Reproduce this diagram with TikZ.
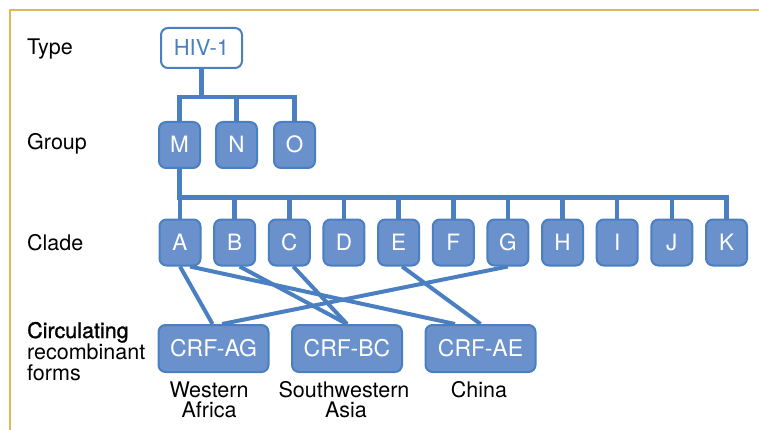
\documentclass[tikz,border=0pt]{standalone}
\usepackage{fontspec}
\setmainfont{TeX Gyre Heros}
\newfontfamily\fbfont[FakeBold=1.2]{TeX Gyre Heros}
\usetikzlibrary{calc,backgrounds}
\definecolor{gold}{RGB}{221,185,90}
\definecolor{boxfill}{RGB}{106,145,203}
\definecolor{boxline}{RGB}{74,128,193}
\definecolor{linkc}{RGB}{74,128,193}
\tikzset{
  lbl/.style={anchor=base west, inner sep=0pt, font=\fontsize{21.5}{21.5}\selectfont, text=black},
  reg/.style={anchor=base, inner sep=0pt, font=\fontsize{21.5}{21.5}\selectfont, text=black},
  boxbase/.style={rounded corners=7pt, line width=2pt, draw=boxline, inner sep=0pt,
    font=\fontsize{22.5}{22.5}\selectfont, text height=16pt, text depth=0pt},
  typebox/.style={boxbase, fill=white, text=linkc, minimum width=81pt, minimum height=40pt},
  letterbox/.style={boxbase, fill=boxfill, text=white, minimum width=41pt, minimum height=46pt},
  crfbox/.style={boxbase, fill=boxfill, text=white, minimum width=110pt, minimum height=47pt,
    font=\fontsize{23}{23}\selectfont},
  tree/.style={draw=linkc, line width=4.5pt},
  cross/.style={draw=linkc, line width=4pt}
}
\begin{document}
\begin{tikzpicture}[x=1pt,y=-1pt]
\useasboundingbox (0,0) rectangle (759,430);
\draw[gold, line width=1.6pt] (10,430) -- (10,10) -- (759,10);

% row labels
\node[lbl] (tType) at (27,55) {Type};
\node[lbl] (tGroup) at (27,150) {Group};
\node[lbl] (tClade) at (27,250) {Clade};
\node[lbl,font=\fontsize{21.5}{21.5}\fbfont] (tCirc) at (27,338) {Circulating};
\node[lbl] (tRec) at (27,359) {recombinant};
\node[lbl] (tForms) at (27,380) {forms};

% type
\node[typebox,font=\fontsize{22}{22}\selectfont] (HIV) at (201.5,48) {HIV-1};

% groups
\node[letterbox] (M) at (179.5,145) {M};
\node[letterbox] (N) at (236.5,145) {N};
\node[letterbox] (O) at (294.5,145) {O};

% clades
\foreach \n [count=\i from 0] in {A,B,C,D,E,F,G,H,I,J,K}{
  \node[letterbox] (\n) at ({180+54.65*\i},242.5) {\n};
}

% CRFs
\node[crfbox] (AG) at (213.5,348.5) {CRF-AG};
\node[crfbox] (BC) at (347,348.5) {CRF-BC};
\node[crfbox] (AE) at (480.5,348.5) {CRF-AE};

% region labels
\node[reg] (wa1) at (209,397) {Western};
\node[reg] (wa2) at (209,417.5) {Africa};
\node[reg] (sa1) at (344,397) {Southwestern};
\node[reg] (sa2) at (346,417.5) {Asia};
\node[reg] (cn) at (479,397) {China};

\begin{pgfonlayer}{background}
  % type to groups
  \draw[tree] (HIV.south) -- ++(0,28) coordinate (j1);
  \draw[tree] (M.north) |- (j1) -| (O.north);
  \draw[tree] (N.north) -- (N.north |- j1);
  % M to clades
  \coordinate (j2) at (180,197.5);
  \draw[tree] (M.south) -- (M.south |- j2) -| (K.north);
  \foreach \n in {A,B,C,D,E,F,G,H,I,J}{
    \draw[tree] (\n.north) -- (\n.north |- j2);
  }
  % recombinant links
  \draw[cross] (A.south) -- ($(AG.north)+(-1,0)$);
  \draw[cross] ($(A.south)+(10,0)$) -- ($(AE.north)+(-25.5,0)$);
  \draw[cross] ($(B.south)+(5,0)$) -- (BC.north);
  \draw[cross] ($(C.south)+(4,0)$) -- (BC.north);
  \draw[cross] ($(E.south)+(3.5,0)$) -- (AE.north);
  \draw[cross] (G.south) -- ($(AG.north)+(8.5,0)$);
\end{pgfonlayer}
\end{tikzpicture}
\end{document}
